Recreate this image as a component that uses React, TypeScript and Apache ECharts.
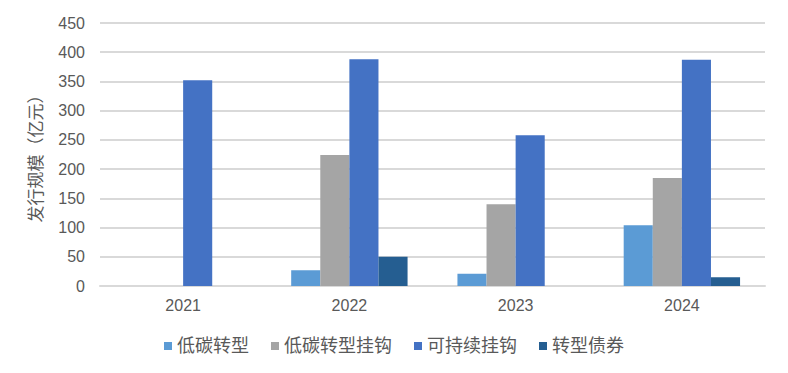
import React, { useEffect, useRef } from "react";
import * as echarts from "echarts";

const categories = ["2021", "2022", "2023", "2024"];
const lowCarbon = [null, 27, 21, 104];
const lowCarbonLinked = [null, 224, 140, 185];
const sustainLinked = [352, 388, 258, 387];
const transitionBond = [null, 50, null, 15];
const seriesNames = ["低碳转型", "低碳转型挂钩", "可持续挂钩", "转型债券"];
const colors = ["#5B9BD5", "#A5A5A5", "#4472C4", "#255E91"];

export default function App() {
  const ref = useRef<HTMLDivElement>(null);
  useEffect(() => {
    const chart = echarts.init(ref.current!, null, { renderer: "svg" });
    const data = [lowCarbon, lowCarbonLinked, sustainLinked, transitionBond];
    chart.setOption({
      animation: false,
      color: colors,
      textStyle: { fontFamily: "'Liberation Sans', 'Noto Sans CJK SC', sans-serif" },
      grid: { left: 92, right: 15, top: 15, bottom: 79, containLabel: false },
      legend: {
        top: 324,
        left: "center",
        itemWidth: 8,
        itemHeight: 8,
        itemGap: 22,
        icon: "rect",
        textStyle: { fontSize: 18, color: "#595959" },
        data: seriesNames,
      },
      xAxis: {
        type: "category",
        data: categories,
        axisLine: { lineStyle: { color: "#D9D9D9", width: 2 } },
        axisTick: { show: false },
        axisLabel: { fontSize: 16, color: "#595959", margin: 11 },
      },
      yAxis: {
        type: "value",
        min: 0,
        max: 450,
        interval: 50,
        name: "发行规模（亿元）",
        nameLocation: "middle",
        nameGap: 55,
        nameTextStyle: { fontSize: 17, color: "#595959" },
        axisLine: { show: false },
        axisTick: { show: false },
        axisLabel: { fontSize: 16, color: "#595959", margin: 15 },
        splitLine: { lineStyle: { color: "#D9D9D9", width: 2 } },
      },
      series: data.map((d, i) => ({
        name: seriesNames[i],
        type: "bar",
        data: d,
        barGap: "0%",
        barCategoryGap: "30%",
      })),
    });
    return () => chart.dispose();
  }, []);
  return <div ref={ref} style={{ width: 772, height: 357 }} />;
}
